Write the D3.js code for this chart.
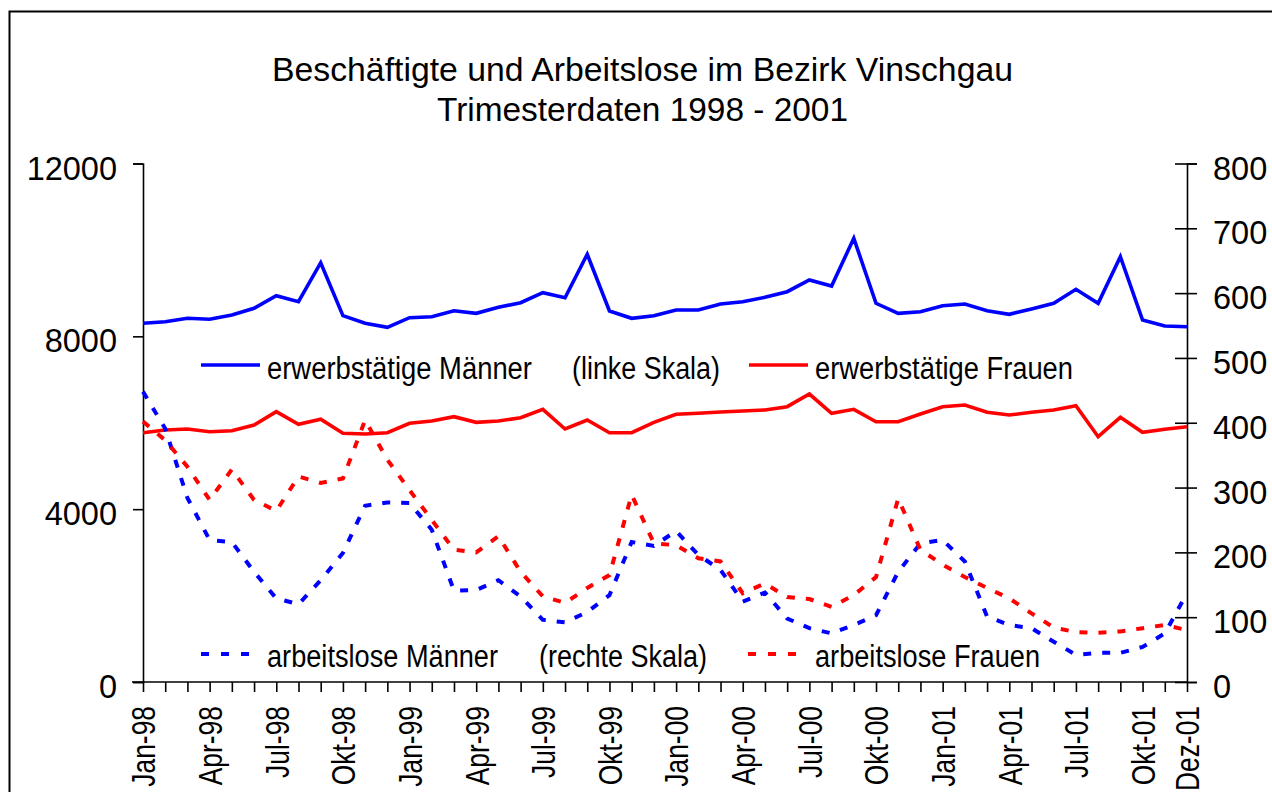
<!DOCTYPE html>
<html>
<head>
<meta charset="utf-8">
<script src="https://cdn.jsdelivr.net/npm/d3@7"></script>
<style>
  body { margin: 0; background: #fff; }
  svg { display: block; font-family: "Liberation Sans", Arial, sans-serif; }
</style>
</head>
<body>
<div id="main-frame"></div>
<script>
// Monthly data Jan-98 .. Dez-01
const monthNames = ["Jan", "Feb", "Mär", "Apr", "Mai", "Jun", "Jul", "Aug", "Sep", "Okt", "Nov", "Dez"];
const years = ["98", "99", "00", "01"];
const months = years.flatMap((y) => monthNames.map((m) => `${m}-${y}`));

// left scale
const employedMen = [
  8302, 8339, 8417, 8394, 8494, 8649, 8941, 8802, 9704, 8478, 8302, 8209,
  8431, 8455, 8593, 8533, 8672, 8779, 9010, 8894, 9899, 8586, 8417, 8478,
  8610, 8610, 8748, 8802, 8904, 9033, 9304, 9165, 10269, 8765, 8533, 8570,
  8709, 8748, 8593, 8510, 8633, 8765, 9089, 8765, 9843, 8378, 8239, 8223,
];
const employedWomen = [
  5770, 5832, 5855, 5793, 5816, 5948, 6256, 5964, 6080, 5756, 5740, 5770,
  5987, 6041, 6140, 6010, 6041, 6117, 6311, 5855, 6064, 5770, 5770, 6010,
  6196, 6219, 6249, 6272, 6295, 6372, 6665, 6219, 6311, 6024, 6024, 6203,
  6372, 6411, 6242, 6179, 6242, 6295, 6395, 5677, 6126, 5779, 5848, 5909,
];
// right scale
const unemployedMen = [
  448, 391, 284, 219, 216, 170, 129, 120, 157, 199, 272, 277,
  276, 235, 141, 142, 157, 132, 96, 92, 108, 134, 216, 210,
  233, 196, 173, 124, 138, 98, 83, 75, 88, 103, 170, 214,
  219, 186, 101, 88, 83, 62, 42, 45, 45, 54, 75, 137,
];
const unemployedWomen = [
  402, 373, 332, 281, 328, 281, 264, 317, 307, 314, 404, 343,
  296, 250, 204, 200, 225, 170, 132, 122, 145, 165, 289, 214,
  211, 191, 186, 137, 152, 131, 128, 116, 134, 162, 283, 204,
  181, 162, 145, 129, 106, 84, 77, 76, 78, 83, 88, 80,
];

const leftTicks = [0, 4000, 8000, 12000];
const rightTicks = [0, 100, 200, 300, 400, 500, 600, 700, 800];
const tickLabels = months.filter((d, i) => i % 3 === 0 || i === months.length - 1);

const titleLines = ["Beschäftigte und Arbeitslose im Bezirk Vinschgau", "Trimesterdaten 1998 - 2001"];

const W = 1272, H = 792;
const plot = { left: 143, right: 1187, top: 163.5, bottom: 682 };

const svg = d3.select("#main-frame").append("svg").attr("width", W).attr("height", H);

// outer frame (runs off the picture at right and bottom)
svg.append("rect")
  .attr("x", 9.5).attr("y", 11.5)
  .attr("width", 1400).attr("height", 900)
  .attr("fill", "none").attr("stroke", "#000").attr("stroke-width", 2);

const x = d3.scalePoint().domain(months).range([plot.left, plot.right]);
const yL = d3.scaleLinear().domain([0, 12000]).range([plot.bottom, plot.top]);
const yR = d3.scaleLinear().domain([0, 800]).range([plot.bottom, plot.top]);

// condense text along its length (source font is narrower than Arial)
function condense(sel, k) {
  sel.each(function () {
    const len = this.getComputedTextLength();
    d3.select(this).attr("textLength", len * k).attr("lengthAdjust", "spacingAndGlyphs");
  });
}

// title
svg.selectAll(".title")
  .data(titleLines)
  .enter()
  .append("text")
  .attr("class", "title")
  .attr("x", 642.5)
  .attr("y", (d, i) => 81 + i * 40)
  .attr("text-anchor", "middle")
  .style("font-size", "33px")
  .text((d) => d)
  .each(function (d, i) {
    d3.select(this).attr("textLength", [741, 411][i]).attr("lengthAdjust", "spacingAndGlyphs");
  });

// axes
const xAxis = svg.append("g")
  .attr("transform", `translate(0,${plot.bottom})`)
  .call(d3.axisBottom(x).tickSize(10).tickFormat(""));

xAxis.selectAll(".tick")
  .filter((d) => tickLabels.includes(d))
  .append("text")
  .attr("fill", "#000")
  .attr("transform", "translate(0,24) rotate(-90)")
  .attr("text-anchor", "end")
  .attr("dy", "0.36em")
  .style("font-size", "33px")
  .text((d) => d)
  .call(condense, 0.8);

const leftAxis = svg.append("g")
  .attr("transform", `translate(${plot.left},0)`)
  .call(d3.axisLeft(yL).tickValues(leftTicks).tickFormat(d3.format("d")).tickSize(10).tickPadding(16));

const rightAxis = svg.append("g")
  .attr("transform", `translate(${plot.right},0)`)
  .call(d3.axisRight(yR).tickValues(rightTicks).tickFormat(d3.format("d")).tickSize(10).tickPadding(16));
rightAxis.selectAll(".tick").append("line").attr("x2", -12).attr("stroke", "#000");

[xAxis, leftAxis, rightAxis].forEach((g) => {
  g.select(".domain").attr("stroke", "#000").attr("stroke-width", 1.6);
  g.selectAll(".tick line").attr("stroke", "#000").attr("stroke-width", 1.6);
});
[leftAxis, rightAxis].forEach((g) => {
  g.selectAll(".tick text").attr("fill", "#000").attr("dy", "0.48em").style("font-size", "32.5px");
});
xAxis.select(".domain").attr("d", `M${plot.left - 11},0H${plot.right}`);

// series
const series = [
  { values: employedMen, scale: yL, color: "#0000ff", dash: null },
  { values: employedWomen, scale: yL, color: "#ff0000", dash: null },
  { values: unemployedMen, scale: yR, color: "#0000ff", dash: "8,11" },
  { values: unemployedWomen, scale: yR, color: "#ff0000", dash: "8,11" },
];

series.forEach((s) => {
  const line = d3.line().x((d, i) => x(months[i])).y((d) => s.scale(d));
  svg.append("path")
    .datum(s.values)
    .attr("fill", "none")
    .attr("stroke", s.color)
    .attr("stroke-width", s.dash ? 4 : 3.6)
    .attr("stroke-linejoin", "miter")
    .attr("stroke-dasharray", s.dash)
    .attr("d", line);
});

// legend
const legendItems = [
  { x1: 201, x2: 260, y: 365, color: "#0000ff", dash: null },
  { x1: 749, x2: 808, y: 365, color: "#ff0000", dash: null },
  { x1: 201, x2: 250, y: 654, color: "#0000ff", dash: "8,12" },
  { x1: 748, x2: 798, y: 654, color: "#ff0000", dash: "8,12" },
];
const legendTexts = [
  { text: "erwerbstätige Männer", x: 267, y: 379, w: 265 },
  { text: "(linke Skala)", x: 572, y: 379, w: 148 },
  { text: "erwerbstätige Frauen", x: 815, y: 379, w: 258 },
  { text: "arbeitslose Männer", x: 267, y: 667, w: 231 },
  { text: "(rechte Skala)", x: 539, y: 667, w: 168 },
  { text: "arbeitslose Frauen", x: 815, y: 667, w: 225 },
];

svg.selectAll(".legend-line")
  .data(legendItems)
  .enter()
  .append("line")
  .attr("class", "legend-line")
  .attr("x1", (d) => d.x1).attr("x2", (d) => d.x2)
  .attr("y1", (d) => d.y).attr("y2", (d) => d.y)
  .attr("stroke", (d) => d.color)
  .attr("stroke-width", (d) => (d.dash ? 4 : 3.6))
  .attr("stroke-dasharray", (d) => d.dash);

svg.selectAll(".legend-text")
  .data(legendTexts)
  .enter()
  .append("text")
  .attr("class", "legend-text")
  .attr("x", (d) => d.x)
  .attr("y", (d) => d.y)
  .attr("textLength", (d) => d.w)
  .attr("lengthAdjust", "spacingAndGlyphs")
  .style("font-size", "31px")
  .text((d) => d.text);
</script>
</body>
</html>
